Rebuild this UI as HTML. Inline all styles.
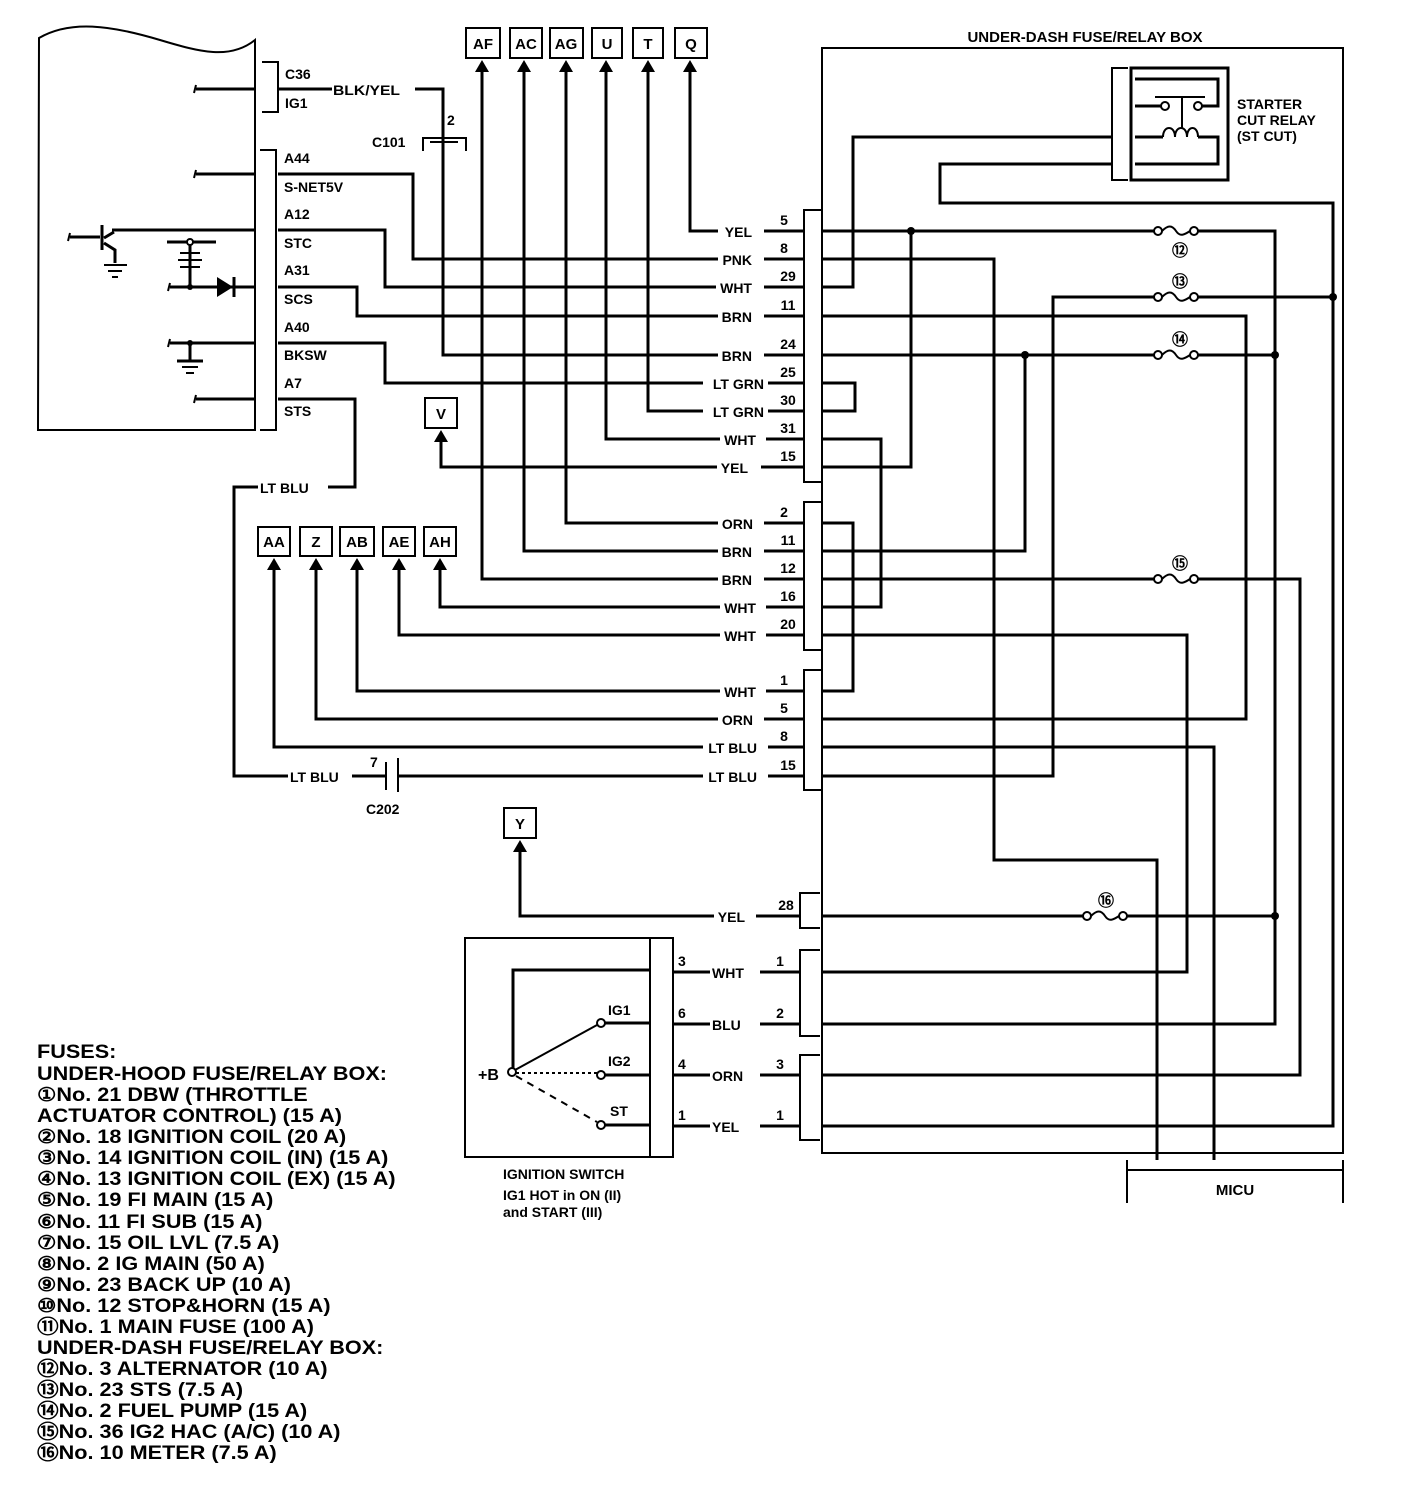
<!DOCTYPE html>
<html><head><meta charset="utf-8"><style>
html,body{margin:0;padding:0;background:#fff}
svg{display:block}
text{font-family:"Liberation Sans",Arial,sans-serif;font-weight:bold;fill:#000}
.l{font-size:14px}
.n{font-size:14px}
.w{fill:none;stroke:#000;stroke-width:3}
.t{fill:none;stroke:#000;stroke-width:2}
.leg{font-size:19px}
.wb{fill:#fff}
</style></head><body>
<svg width="1408" height="1486" viewBox="0 0 1408 1486" xmlns="http://www.w3.org/2000/svg">
<!-- ECM -->
<path class="t" d="M39,38 C70,20 110,25 160,40 C200,52 230,60 255,40 L255,430 L38,430 Z"/>
<path class="t" d="M262,62 H278 V112 H262"/>
<text class="n" x="285" y="79">C36</text><text class="n" x="285" y="108">IG1</text>
<path class="w" d="M196,89 H255 M278,89 H332"/>
<text class="l" x="333" y="95" textLength="67" lengthAdjust="spacingAndGlyphs">BLK/YEL</text>
<path class="w" d="M415,89 H443 V355 H804"/>
<path class="t" d="M423,151 V138 H466 V151 M430,142 H458"/>
<text class="n" x="447" y="125">2</text><text class="n" x="372" y="147">C101</text>
<path class="t" d="M260,150 H276 V430 H260"/>
<text class="n" x="284" y="163">A44</text><text class="n" x="284" y="192">S-NET5V</text><text class="n" x="284" y="219">A12</text>
<text class="n" x="284" y="248">STC</text><text class="n" x="284" y="275">A31</text><text class="n" x="284" y="304">SCS</text>
<text class="n" x="284" y="332">A40</text><text class="n" x="284" y="360">BKSW</text><text class="n" x="284" y="388">A7</text><text class="n" x="284" y="416">STS</text>
<!-- ECM internals -->
<path class="w" d="M196,174 H255 M112,230 H255 M170,287 H255 M170,343 H255 M196,399 H255"/>
<path class="t" d="M196,170 l-2,8 M196,85 l-2,8 M196,395 l-2,8 M170,283 l-2,8 M170,339 l-2,8 M70,233 l-2,8"/>
<path class="w" d="M70,237 H100 M102,225 V250 M104,238 L114,232 M104,243 L115,250 V263"/>
<path class="t" d="M104,265 H127 M108,271 H122 M112,277 H118"/>
<path d="M217,277 L233,287 L217,297 Z" fill="#000"/><path class="w" d="M234,277 V297"/>
<path class="w" d="M190,242 V287 M167,242 H216"/>
<circle cx="190" cy="242" r="3" fill="#fff" stroke="#000" stroke-width="2"/>
<path class="t" d="M180,253 H200 M178,260 H202 M180,267 H200"/>
<circle cx="190" cy="287" r="3" fill="#000"/>
<path class="w" d="M190,343 V360"/><circle cx="190" cy="343" r="3" fill="#000"/>
<path class="w" d="M177,361 H203"/><path class="t" d="M182,367 H198 M186,373 H194"/>
<!-- ECM wires -->
<path class="w" d="M278,174 H413 V259 H804"/>
<path class="w" d="M278,230 H385 V287 H804"/>
<path class="w" d="M278,287 H357 V316 H804"/>
<path class="w" d="M278,343 H385 V383 H804"/>
<path class="w" d="M278,399 H355 V487 H328"/>
<text class="l" x="260" y="493">LT BLU</text>
<path class="w" d="M258,487 H234 V776 H288"/>
<text class="l" x="290" y="782">LT BLU</text>
<path class="w" d="M352,776 H386 M398,776 H804"/>
<path class="t" d="M386,762 V790 M398,758 V792"/>
<text class="n" x="370" y="767">7</text><text class="n" x="366" y="814">C202</text>
<!-- top boxes -->
<g class="t">
<rect x="466" y="28" width="34" height="30"/><rect x="510" y="28" width="32" height="30"/><rect x="550" y="28" width="33" height="30"/>
<rect x="592" y="28" width="30" height="30"/><rect x="633" y="28" width="30" height="30"/><rect x="675" y="28" width="32" height="30"/>
<rect x="425" y="398" width="32" height="30"/>
<rect x="258" y="527" width="32" height="29"/><rect x="300" y="527" width="32" height="29"/><rect x="340" y="527" width="34" height="29"/>
<rect x="383" y="527" width="32" height="29"/><rect x="424" y="527" width="32" height="29"/>
<rect x="504" y="808" width="32" height="30"/></g>
<g font-size="15" text-anchor="middle">
<text x="483" y="49">AF</text><text x="526" y="49">AC</text><text x="566" y="49">AG</text><text x="607" y="49">U</text><text x="648" y="49">T</text><text x="691" y="49">Q</text>
<text x="441" y="419">V</text>
<text x="274" y="547">AA</text><text x="316" y="547">Z</text><text x="357" y="547">AB</text><text x="399" y="547">AE</text><text x="440" y="547">AH</text>
<text x="520" y="829">Y</text></g>
<g fill="#000">
<path d="M482,60 l-7,12 h14z"/><path d="M524,60 l-7,12 h14z"/><path d="M566,60 l-7,12 h14z"/><path d="M606,60 l-7,12 h14z"/><path d="M648,60 l-7,12 h14z"/><path d="M690,60 l-7,12 h14z"/>
<path d="M441,430 l-7,12 h14z"/>
<path d="M274,558 l-7,12 h14z"/><path d="M316,558 l-7,12 h14z"/><path d="M357,558 l-7,12 h14z"/><path d="M399,558 l-7,12 h14z"/><path d="M440,558 l-7,12 h14z"/>
<path d="M520,840 l-7,12 h14z"/></g>
<path class="w" d="M690,70 V231 H804 M648,70 V411 H804 M606,70 V439 H804 M441,440 V467 H804 M566,70 V523 H804 M524,70 V551 H804 M482,70 V579 H804
M440,568 V607 H804 M399,568 V635 H804 M357,568 V691 H804 M316,568 V719 H804 M274,568 V747 H804 M520,850 V916 H800"/>
<!-- row label backgrounds -->
<g class="wb">
<rect x="718" y="224" width="46" height="14"/><rect x="718" y="252" width="46" height="14"/><rect x="716" y="280" width="48" height="14"/>
<rect x="718" y="309" width="46" height="14"/><rect x="718" y="348" width="46" height="14"/><rect x="703" y="376" width="65" height="14"/>
<rect x="703" y="404" width="65" height="14"/><rect x="720" y="432" width="46" height="14"/><rect x="717" y="460" width="44" height="14"/>
<rect x="718" y="516" width="46" height="14"/><rect x="718" y="544" width="46" height="14"/><rect x="718" y="572" width="46" height="14"/>
<rect x="720" y="600" width="46" height="14"/><rect x="720" y="628" width="46" height="14"/><rect x="720" y="684" width="46" height="14"/>
<rect x="718" y="712" width="46" height="14"/><rect x="703" y="740" width="65" height="14"/><rect x="703" y="769" width="65" height="14"/>
<rect x="714" y="909" width="42" height="14"/>
<rect x="710" y="965" width="50" height="14"/><rect x="710" y="1017" width="50" height="14"/><rect x="710" y="1068" width="50" height="14"/><rect x="710" y="1119" width="50" height="14"/>
</g>
<g class="l" text-anchor="end">
<text class="l" x="752" y="237">YEL</text><text class="l" x="752" y="265">PNK</text><text class="l" x="752" y="293">WHT</text><text class="l" x="752" y="322">BRN</text>
<text class="l" x="752" y="361">BRN</text><text class="l" x="764" y="389">LT GRN</text><text class="l" x="764" y="417">LT GRN</text><text class="l" x="756" y="445">WHT</text>
<text class="l" x="748" y="473">YEL</text><text class="l" x="753" y="529">ORN</text><text class="l" x="752" y="557">BRN</text><text class="l" x="752" y="585">BRN</text>
<text class="l" x="756" y="613">WHT</text><text class="l" x="756" y="641">WHT</text><text class="l" x="756" y="697">WHT</text><text class="l" x="753" y="725">ORN</text>
<text class="l" x="757" y="753">LT BLU</text><text class="l" x="757" y="782">LT BLU</text><text class="l" x="745" y="922">YEL</text></g>
<g class="n" text-anchor="middle">
<text x="784" y="225">5</text><text x="784" y="253">8</text><text x="788" y="281">29</text><text x="788" y="310">11</text><text x="788" y="349">24</text>
<text x="788" y="377">25</text><text x="788" y="405">30</text><text x="788" y="433">31</text><text x="788" y="461">15</text>
<text x="784" y="517">2</text><text x="788" y="545">11</text><text x="788" y="573">12</text><text x="788" y="601">16</text><text x="788" y="629">20</text>
<text x="784" y="685">1</text><text x="784" y="713">5</text><text x="784" y="741">8</text><text x="788" y="770">15</text><text x="786" y="910">28</text>
<text x="780" y="966">1</text><text x="780" y="1018">2</text><text x="780" y="1069">3</text><text x="780" y="1120">1</text></g>
<!-- connectors -->
<path class="t" d="M822,210 H804 V482 H822 M822,502 H804 V650 H822 M822,670 H804 V790 H822 M820,893 H800 V928 H820 M820,950 H800 V1036 H820 M820,1055 H800 V1140 H820"/>
<!-- under-dash box -->
<text font-size="15" x="1085" y="42" text-anchor="middle">UNDER-DASH FUSE/RELAY BOX</text>
<path class="t" d="M822,48 H1343 V1153 H822 Z"/>
<!-- relay -->
<path class="t" d="M1128,68 H1112 V180 H1128"/>
<rect class="w" x="1131" y="68" width="97" height="112"/>
<path class="w" d="M1135,79 H1218 V106 H1202 M1135,106 H1161"/>
<circle cx="1165" cy="106" r="4" fill="#fff" stroke="#000" stroke-width="2"/><circle cx="1198" cy="106" r="4" fill="#fff" stroke="#000" stroke-width="2"/>
<path class="t" d="M1155,97 H1205 M1182,97 V128"/>
<path class="w" d="M1135,137 H1163 M1198,137 H1218 V164 H1135"/>
<path class="t" d="M1163,137 c0,-12 12,-12 12,0 c0,-12 12,-12 12,0 c0,-12 11,-12 11,0"/>
<text font-size="14" x="1237" y="109">STARTER</text><text font-size="14" x="1237" y="125">CUT RELAY</text><text font-size="14" x="1237" y="141">(ST CUT)</text>
<!-- box wires -->
<path class="w" d="M1112,137 H853 V287 H822"/>
<path class="w" d="M1112,164 H940 V203 H1333 V1126 H822"/>
<path class="w" d="M822,231 H1275 V1024 H822"/>
<path class="w" d="M822,259 H994 V860 H1157 V1160"/>
<path class="w" d="M822,316 H1246 V719 H822"/>
<path class="w" d="M822,355 H1275 M1025,355 V551 H822"/>
<path class="w" d="M822,383 H855 V411 H822"/>
<path class="w" d="M822,439 H881 V607 H822"/>
<path class="w" d="M822,467 H911 V231"/>
<path class="w" d="M822,523 H853 V691 H822"/>
<path class="w" d="M822,579 H1300 V1075 H822"/>
<path class="w" d="M822,635 H1187 V972 H822"/>
<path class="w" d="M822,747 H1214 V1160"/>
<path class="w" d="M822,776 H1053 V297 H1333"/>
<path class="w" d="M822,916 H1275"/>
<g fill="#000"><circle cx="911" cy="231" r="4"/><circle cx="1025" cy="355" r="4"/><circle cx="1275" cy="355" r="4"/><circle cx="1333" cy="297" r="4"/><circle cx="1275" cy="916" r="4"/></g>
<!-- fuses -->
<g>
<rect x="1154" y="222" width="44" height="18" fill="#fff"/><rect x="1154" y="288" width="44" height="18" fill="#fff"/><rect x="1154" y="346" width="44" height="18" fill="#fff"/><rect x="1154" y="570" width="44" height="18" fill="#fff"/><rect x="1083" y="907" width="44" height="18" fill="#fff"/>
<g class="t"><circle cx="1158" cy="231" r="4"/><circle cx="1194" cy="231" r="4"/><path d="M1162,231 c6,-6 10,-6 14,0 s8,4 14,0"/>
<circle cx="1158" cy="297" r="4"/><circle cx="1194" cy="297" r="4"/><path d="M1162,297 c6,-6 10,-6 14,0 s8,4 14,0"/>
<circle cx="1158" cy="355" r="4"/><circle cx="1194" cy="355" r="4"/><path d="M1162,355 c6,-6 10,-6 14,0 s8,4 14,0"/>
<circle cx="1158" cy="579" r="4"/><circle cx="1194" cy="579" r="4"/><path d="M1162,579 c6,-6 10,-6 14,0 s8,4 14,0"/>
<circle cx="1087" cy="916" r="4"/><circle cx="1123" cy="916" r="4"/><path d="M1091,916 c6,-6 10,-6 14,0 s8,4 14,0"/></g>
<g font-size="16" text-anchor="middle"><text x="1180" y="256">⑫</text><text x="1180" y="287">⑬</text><text x="1180" y="345">⑭</text><text x="1180" y="569">⑮</text><text x="1106" y="906">⑯</text></g>
</g>
<!-- MICU -->
<path class="t" d="M1127,1160 V1203 M1127,1170 H1343 V1203 M1343,1160 V1170"/>
<text font-size="15" x="1235" y="1195" text-anchor="middle">MICU</text>
<!-- ignition switch -->
<rect class="t" x="465" y="938" width="185" height="219"/>
<path class="t" d="M650,938 H673 V1157 H650"/>
<path class="w" d="M513,1072 V970 H650 M605,1023 H650 M605,1075 H650 M605,1125 H650"/>
<path class="t" d="M515,1070 L597,1025"/>
<path class="t" d="M516,1073 H597" stroke-dasharray="3,3"/>
<path class="t" d="M516,1076 L597,1122" stroke-dasharray="7,6"/>
<g fill="#fff" stroke="#000" stroke-width="2"><circle cx="512" cy="1072" r="4"/><circle cx="601" cy="1023" r="4"/><circle cx="601" cy="1075" r="4"/><circle cx="601" cy="1125" r="4"/></g>
<text class="n" x="608" y="1015">IG1</text><text class="n" x="608" y="1066">IG2</text><text class="n" x="610" y="1116">ST</text>
<text font-size="16" x="478" y="1080">+B</text>
<path class="w" d="M673,972 H710 M760,972 H800 M673,1024 H710 M760,1024 H800 M673,1075 H710 M760,1075 H800 M673,1126 H710 M760,1126 H800"/>
<g class="n"><text x="678" y="966">3</text><text x="678" y="1018">6</text><text x="678" y="1069">4</text><text x="678" y="1120">1</text></g>
<text class="l" x="712" y="978">WHT</text><text class="l" x="712" y="1030">BLU</text><text class="l" x="712" y="1081">ORN</text><text class="l" x="712" y="1132">YEL</text>
<text font-size="14" x="503" y="1179">IGNITION SWITCH</text>
<text font-size="14" x="503" y="1200">IG1 HOT in ON (II)</text>
<text font-size="14" x="503" y="1217">and START (III)</text>
<!-- legend -->
<g transform="translate(37,0) scale(1.14,1)">
<text class="leg" x="0" y="1058">FUSES:</text>
<text class="leg" x="0" y="1080">UNDER-HOOD FUSE/RELAY BOX:</text>
<text class="leg" x="0" y="1101">①No. 21 DBW (THROTTLE</text>
<text class="leg" x="0" y="1122">ACTUATOR CONTROL) (15 A)</text>
<text class="leg" x="0" y="1143">②No. 18 IGNITION COIL (20 A)</text>
<text class="leg" x="0" y="1164">③No. 14 IGNITION COIL (IN) (15 A)</text>
<text class="leg" x="0" y="1185">④No. 13 IGNITION COIL (EX) (15 A)</text>
<text class="leg" x="0" y="1206">⑤No. 19 FI MAIN (15 A)</text>
<text class="leg" x="0" y="1228">⑥No. 11 FI SUB (15 A)</text>
<text class="leg" x="0" y="1249">⑦No. 15 OIL LVL (7.5 A)</text>
<text class="leg" x="0" y="1270">⑧No. 2 IG MAIN (50 A)</text>
<text class="leg" x="0" y="1291">⑨No. 23 BACK UP (10 A)</text>
<text class="leg" x="0" y="1312">⑩No. 12 STOP&amp;HORN (15 A)</text>
<text class="leg" x="0" y="1333">⑪No. 1 MAIN FUSE (100 A)</text>
<text class="leg" x="0" y="1354">UNDER-DASH FUSE/RELAY BOX:</text>
<text class="leg" x="0" y="1375">⑫No. 3 ALTERNATOR (10 A)</text>
<text class="leg" x="0" y="1396">⑬No. 23 STS (7.5 A)</text>
<text class="leg" x="0" y="1417">⑭No. 2 FUEL PUMP (15 A)</text>
<text class="leg" x="0" y="1438">⑮No. 36 IG2 HAC (A/C) (10 A)</text>
<text class="leg" x="0" y="1459">⑯No. 10 METER (7.5 A)</text>
</g>
</svg>
</body></html>
